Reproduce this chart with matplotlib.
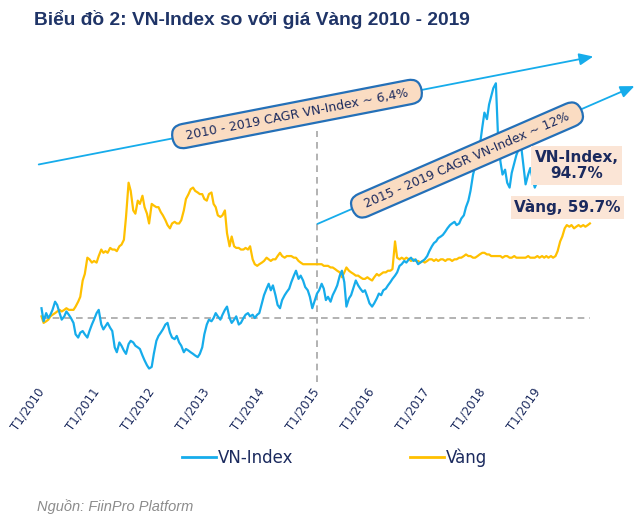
import matplotlib
matplotlib.use("Agg")
import matplotlib.pyplot as plt
from matplotlib.patches import FancyArrowPatch
from matplotlib.lines import Line2D
import pandas as pd
import numpy as np

# ---------------- data (% change vs. T1/2010), semi-monthly ----------------
years = list(range(2010, 2020))
tick_labels = [f"T1/{y}" for y in years]

vn_2010 = [6, -2, 3, 0, 2, 5, 10, 8, 3, -1, 1, 4, 2, 0, -3, -10, -12, -9, -8, -10, -12, -8, -4, -1]
vn_2011 = [3, 5, -4, -7, -5, -3, -6, -8, -18, -21, -15, -17, -20, -22, -16, -14, -15, -17, -18, -19, -23, -26, -29, -31]
vn_2012 = [-30, -22, -14, -11, -9, -7, -4, -3, -9, -12, -13, -11, -15, -17, -21, -19, -20, -21, -22, -23, -24, -22, -18, -10]
vn_2013 = [-4, -1, -2, 0, 3, 1, -1, 2, 5, 7, 0, -3, -1, 1, -4, -3, 0, 2, 3, 1, 2, 0, 2, 3]
vn_2014 = [9, 14, 18, 21, 17, 20, 14, 8, 6, 11, 14, 16, 18, 22, 26, 29, 24, 26, 23, 19, 17, 13, 6, 10]
vn_2015 = [15, 17, 21, 18, 11, 13, 10, 14, 17, 20, 26, 29, 22, 7, 12, 14, 19, 23, 20, 18, 16, 17, 13, 9]
vn_2016 = [7, 9, 12, 15, 14, 17, 18, 20, 22, 24, 26, 28, 32, 33, 35, 34, 36, 37, 35, 36, 33, 34, 35, 36]
vn_2017 = [38, 41, 44, 46, 47, 49, 50, 51, 53, 55, 57, 58, 59, 57, 58, 61, 63, 68, 72, 78, 88, 93, 97, 105]
vn_2018 = [117, 126, 122, 131, 136, 141, 144, 112, 96, 88, 91, 83, 80, 89, 95, 100, 104, 106, 93, 82, 88, 92, 85, 80]
vn_2019 = [84, 86, 96, 99, 99, 100, 98, 97, 96, 94, 92, 93, 99, 101, 99, 98, 100, 101, 103, 101, 97, 96, 94, 94.7]

gold_2010 = [1, -3, -2, -1, 1, 2, 3, 4, 5, 4, 5, 6, 5, 5, 5, 7, 10, 13, 23, 27, 37, 36, 34, 35]
gold_2011 = [34, 38, 42, 40, 41, 40, 43, 42, 42, 41, 44, 45, 48, 62, 83, 78, 66, 64, 72, 70, 75, 68, 64, 58]
gold_2012 = [70, 69, 68, 68, 65, 63, 60, 57, 55, 58, 59, 58, 58, 60, 66, 73, 76, 79, 80, 78, 77, 76, 76, 73]
gold_2013 = [72, 76, 77, 70, 68, 63, 62, 63, 66, 52, 44, 50, 44, 43, 43, 42, 42, 43, 42, 44, 36, 33, 32, 33]
gold_2014 = [34, 35, 37, 36, 35, 36, 36, 38, 40, 38, 37, 38, 38, 38, 37, 37, 35, 34, 33, 33, 33, 33, 33, 33]
gold_2015 = [33, 33, 33, 32, 32, 32, 31, 31, 30, 29, 28, 25, 28, 31, 29, 28, 27, 26, 26, 25, 24, 24, 25, 24]
gold_2016 = [23, 25, 27, 26, 27, 28, 28, 29, 29, 30, 47, 37, 36, 37, 36, 37, 36, 35, 36, 35, 35, 34, 35, 34]
gold_2017 = [35, 36, 36, 35, 36, 35, 36, 36, 35, 36, 36, 35, 36, 36, 37, 37, 38, 39, 38, 38, 37, 37, 38, 39]
gold_2018 = [40, 40, 39, 39, 38, 38, 38, 38, 38, 37, 38, 38, 37, 37, 38, 37, 37, 37, 37, 37, 38, 37, 37, 37]
gold_2019 = [38, 37, 38, 37, 38, 37, 38, 37, 38, 41, 47, 50, 55, 57, 56, 57, 55, 56, 57, 56, 57, 56, 57, 58]

vn_index = sum([vn_2010, vn_2011, vn_2012, vn_2013, vn_2014, vn_2015, vn_2016, vn_2017, vn_2018, vn_2019], [])
gold = sum([gold_2010, gold_2011, gold_2012, gold_2013, gold_2014, gold_2015, gold_2016, gold_2017, gold_2018, gold_2019], [])

dates = pd.date_range("2010-01-01", periods=len(vn_index), freq="SMS")
t = dates.year + (dates.dayofyear - 1) / 365.25

title = "Biểu đồ 2: VN-Index so với giá Vàng 2010 - 2019"
note1 = "  2010 - 2019 CAGR VN-Index ~ 6,4%  "
note2 = "  2015 - 2019 CAGR VN-Index ~ 12%  "
lab_vn = "VN-Index,\n94.7%"
lab_gold = "Vàng, 59.7%"
source = "Nguồn: FiinPro Platform"

# ---------------- styling ----------------
BLUE = "#16ACEB"
GOLD = "#FFC000"
NAVY = "#1B2A5E"
GREY = "#A6A6A6"
PEACH = "#FADCC2"
PEACH_L = "#FBE5D6"
EDGE = "#2470B8"

W, H = 640, 518
fig = plt.figure(figsize=(6.4, 5.18), dpi=100)
fig.patch.set_facecolor("white")

ax_l, ax_r, ax_t, ax_b = 20, 630, 40, 382
ax = fig.add_axes([ax_l / W, 1 - ax_b / H, (ax_r - ax_l) / W, (ax_b - ax_t) / H])
ax.set_xlim(2009.6098, 2020.6806)
ax.set_ylim(-39.26, 170.55)
for s in ax.spines.values():
    s.set_visible(False)
ax.set_yticks([])
ax.set_xticks(years)
ax.set_xticklabels(tick_labels, rotation=55, ha="right", va="center",
                   rotation_mode="anchor", fontsize=8.5, color=NAVY)
ax.tick_params(axis="x", length=0, pad=5)

# reference dashed lines
ax.plot([t[0], t[-1]], [0, 0], color=GREY, lw=1.2, ls=(0, (4, 3)), zorder=1)
ax.plot([2015, 2015], [-39.26, 115], color=GREY, lw=1.2, ls=(0, (4, 3)), zorder=1)

ax.plot(t, gold, color=GOLD, lw=1.6, zorder=3, label="Vàng")
ax.plot(t, vn_index, color=BLUE, lw=1.6, zorder=4, label="VN-Index")

# trend arrows (figure pixel positions)
def fp(x, y):
    return (x / W, 1 - y / H)

for (p0, p1) in [((36, 165), (596, 56)), ((315, 225), (637, 85))]:
    arr = FancyArrowPatch(fp(*p0), fp(*p1), transform=fig.transFigure,
                          arrowstyle="-|>,head_length=0.7,head_width=0.3",
                          mutation_scale=12, color=BLUE, lw=1.3, zorder=5)
    fig.add_artist(arr)

fig.text(*fp(297, 114), note1, rotation=11.0, rotation_mode="anchor",
         ha="center", va="center", fontsize=9, color=NAVY, zorder=6,
         bbox=dict(boxstyle="round,pad=0.45,rounding_size=0.95", fc=PEACH, ec=EDGE, lw=1.6))
fig.text(*fp(467, 160), note2, rotation=23.5, rotation_mode="anchor",
         ha="center", va="center", fontsize=9, color=NAVY, zorder=6,
         bbox=dict(boxstyle="round,pad=0.45,rounding_size=0.95", fc=PEACH, ec=EDGE, lw=1.6))

fig.text(*fp(576.5, 165.5), lab_vn, ha="center", va="center", fontsize=11,
         fontweight="bold", color=NAVY, linespacing=1.15, zorder=7,
         bbox=dict(boxstyle="square,pad=0.25", fc=PEACH_L, ec="none"))
fig.text(*fp(567.5, 207.5), lab_gold, ha="center", va="center", fontsize=11,
         fontweight="bold", color=NAVY, zorder=7,
         bbox=dict(boxstyle="square,pad=0.2", fc=PEACH_L, ec="none"))

fig.text(34 / W, 1 - 25 / H, title, fontsize=13.8, fontweight="bold",
         color="#1F3467", family="Liberation Sans", va="baseline", ha="left")

handles = [Line2D([], [], color=BLUE, lw=2), Line2D([], [], color=GOLD, lw=2)]
leg = fig.legend(handles, ["VN-Index", "Vàng"], loc="center",
                 bbox_to_anchor=(335 / W, 1 - 458 / H), ncol=2, frameon=False,
                 fontsize=12, handlelength=2.0, handletextpad=0.15, columnspacing=7.0)
for txt in leg.get_texts():
    txt.set_color(NAVY)

fig.text(37 / W, 1 - 511 / H, source, fontsize=10.5, style="italic",
         color="#8C8C8C", family="Liberation Sans", va="baseline", ha="left")

fig.savefig("out.png", dpi=100)
